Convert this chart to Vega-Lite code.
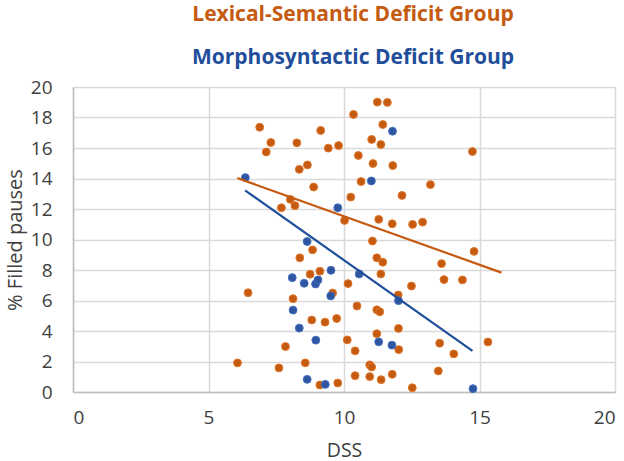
{
  "$schema": "https://vega.github.io/schema/vega-lite/v6.json",
  "autosize": "none",
  "width": 542,
  "height": 305,
  "padding": {"left": 73, "top": 87, "right": 9, "bottom": 69},
  "background": "white",
  "title": {
    "text": "Lexical-Semantic Deficit Group",
    "subtitle": "Morphosyntactic Deficit Group",
    "color": "#C55A11",
    "subtitleColor": "#1F4E9A",
    "font": "Open Sans",
    "subtitleFont": "Open Sans",
    "fontSize": 21,
    "subtitleFontSize": 21,
    "fontWeight": "bold",
    "subtitleFontWeight": "bold",
    "anchor": "middle",
    "dx": 9,
    "offset": 10,
    "subtitlePadding": 22
  },
  "config": {
    "view": {"stroke": null},
    "axis": {
      "labelFont": "Open Sans",
      "titleFont": "Open Sans",
      "labelColor": "#404040",
      "titleColor": "#404040",
      "labelFontSize": 19,
      "titleFontSize": 19.5,
      "titleFontWeight": "normal",
      "gridColor": "#d9d9d9",
      "gridWidth": 1.5,
      "domainColor": "#bfbfbf",
      "domainWidth": 1.5,
      "ticks": false,
      "labelOverlap": false
    }
  },
  "datasets": {
    "points": [
      {"group": "Lexical-Semantic", "dss": 6.89, "filled": 17.36},
      {"group": "Lexical-Semantic", "dss": 7.30, "filled": 16.36},
      {"group": "Lexical-Semantic", "dss": 7.13, "filled": 15.74},
      {"group": "Lexical-Semantic", "dss": 8.26, "filled": 16.34},
      {"group": "Lexical-Semantic", "dss": 9.14, "filled": 17.15},
      {"group": "Lexical-Semantic", "dss": 9.42, "filled": 15.99},
      {"group": "Lexical-Semantic", "dss": 9.80, "filled": 16.16},
      {"group": "Lexical-Semantic", "dss": 8.65, "filled": 14.89},
      {"group": "Lexical-Semantic", "dss": 8.35, "filled": 14.6},
      {"group": "Lexical-Semantic", "dss": 8.88, "filled": 13.44},
      {"group": "Lexical-Semantic", "dss": 8.02, "filled": 12.63},
      {"group": "Lexical-Semantic", "dss": 8.19, "filled": 12.22},
      {"group": "Lexical-Semantic", "dss": 7.69, "filled": 12.08},
      {"group": "Lexical-Semantic", "dss": 10.02, "filled": 11.25},
      {"group": "Lexical-Semantic", "dss": 8.84, "filled": 9.32},
      {"group": "Lexical-Semantic", "dss": 8.37, "filled": 8.8},
      {"group": "Lexical-Semantic", "dss": 8.75, "filled": 7.72},
      {"group": "Lexical-Semantic", "dss": 9.11, "filled": 7.92},
      {"group": "Lexical-Semantic", "dss": 9.58, "filled": 6.49},
      {"group": "Lexical-Semantic", "dss": 6.46, "filled": 6.51},
      {"group": "Lexical-Semantic", "dss": 8.12, "filled": 6.12},
      {"group": "Lexical-Semantic", "dss": 8.81, "filled": 4.72},
      {"group": "Lexical-Semantic", "dss": 9.30, "filled": 4.58},
      {"group": "Lexical-Semantic", "dss": 9.73, "filled": 4.82},
      {"group": "Lexical-Semantic", "dss": 7.84, "filled": 2.98},
      {"group": "Lexical-Semantic", "dss": 6.07, "filled": 1.91},
      {"group": "Lexical-Semantic", "dss": 7.60, "filled": 1.58},
      {"group": "Lexical-Semantic", "dss": 8.57, "filled": 1.91},
      {"group": "Lexical-Semantic", "dss": 9.11, "filled": 0.46},
      {"group": "Lexical-Semantic", "dss": 9.77, "filled": 0.59},
      {"group": "Lexical-Semantic", "dss": 11.23, "filled": 19.01},
      {"group": "Lexical-Semantic", "dss": 11.6, "filled": 18.99},
      {"group": "Lexical-Semantic", "dss": 10.35, "filled": 18.2},
      {"group": "Lexical-Semantic", "dss": 11.43, "filled": 17.54},
      {"group": "Lexical-Semantic", "dss": 11.02, "filled": 16.56},
      {"group": "Lexical-Semantic", "dss": 11.36, "filled": 16.23},
      {"group": "Lexical-Semantic", "dss": 14.74, "filled": 15.77},
      {"group": "Lexical-Semantic", "dss": 10.53, "filled": 15.51},
      {"group": "Lexical-Semantic", "dss": 11.07, "filled": 14.98},
      {"group": "Lexical-Semantic", "dss": 11.8, "filled": 14.85},
      {"group": "Lexical-Semantic", "dss": 10.63, "filled": 13.8},
      {"group": "Lexical-Semantic", "dss": 13.19, "filled": 13.6},
      {"group": "Lexical-Semantic", "dss": 10.25, "filled": 12.78},
      {"group": "Lexical-Semantic", "dss": 12.14, "filled": 12.89},
      {"group": "Lexical-Semantic", "dss": 11.28, "filled": 11.32},
      {"group": "Lexical-Semantic", "dss": 11.78, "filled": 11.03},
      {"group": "Lexical-Semantic", "dss": 12.53, "filled": 10.99},
      {"group": "Lexical-Semantic", "dss": 12.9, "filled": 11.14},
      {"group": "Lexical-Semantic", "dss": 11.05, "filled": 9.9},
      {"group": "Lexical-Semantic", "dss": 14.8, "filled": 9.22},
      {"group": "Lexical-Semantic", "dss": 11.21, "filled": 8.8},
      {"group": "Lexical-Semantic", "dss": 11.43, "filled": 8.51},
      {"group": "Lexical-Semantic", "dss": 13.6, "filled": 8.42},
      {"group": "Lexical-Semantic", "dss": 11.36, "filled": 7.74},
      {"group": "Lexical-Semantic", "dss": 10.15, "filled": 7.11},
      {"group": "Lexical-Semantic", "dss": 13.69, "filled": 7.37},
      {"group": "Lexical-Semantic", "dss": 14.37, "filled": 7.35},
      {"group": "Lexical-Semantic", "dss": 12.49, "filled": 6.95},
      {"group": "Lexical-Semantic", "dss": 12.0, "filled": 6.36},
      {"group": "Lexical-Semantic", "dss": 10.48, "filled": 5.64},
      {"group": "Lexical-Semantic", "dss": 11.21, "filled": 5.39},
      {"group": "Lexical-Semantic", "dss": 11.32, "filled": 5.26},
      {"group": "Lexical-Semantic", "dss": 12.01, "filled": 4.17},
      {"group": "Lexical-Semantic", "dss": 11.21, "filled": 3.82},
      {"group": "Lexical-Semantic", "dss": 10.12, "filled": 3.42},
      {"group": "Lexical-Semantic", "dss": 12.02, "filled": 2.78},
      {"group": "Lexical-Semantic", "dss": 10.41, "filled": 2.7},
      {"group": "Lexical-Semantic", "dss": 13.53, "filled": 3.2},
      {"group": "Lexical-Semantic", "dss": 14.05, "filled": 2.5},
      {"group": "Lexical-Semantic", "dss": 15.31, "filled": 3.28},
      {"group": "Lexical-Semantic", "dss": 10.95, "filled": 1.78},
      {"group": "Lexical-Semantic", "dss": 11.02, "filled": 1.64},
      {"group": "Lexical-Semantic", "dss": 13.48, "filled": 1.38},
      {"group": "Lexical-Semantic", "dss": 10.41, "filled": 1.07},
      {"group": "Lexical-Semantic", "dss": 10.95, "filled": 1.01},
      {"group": "Lexical-Semantic", "dss": 11.78, "filled": 1.16},
      {"group": "Lexical-Semantic", "dss": 11.37, "filled": 0.81},
      {"group": "Lexical-Semantic", "dss": 12.52, "filled": 0.28},
      {"group": "Morphosyntactic", "dss": 6.36, "filled": 14.06},
      {"group": "Morphosyntactic", "dss": 9.77, "filled": 12.08},
      {"group": "Morphosyntactic", "dss": 11.79, "filled": 17.1},
      {"group": "Morphosyntactic", "dss": 11.01, "filled": 13.84},
      {"group": "Morphosyntactic", "dss": 8.64, "filled": 9.87},
      {"group": "Morphosyntactic", "dss": 9.52, "filled": 7.98},
      {"group": "Morphosyntactic", "dss": 8.09, "filled": 7.5},
      {"group": "Morphosyntactic", "dss": 8.53, "filled": 7.13},
      {"group": "Morphosyntactic", "dss": 8.95, "filled": 7.08},
      {"group": "Morphosyntactic", "dss": 9.04, "filled": 7.35},
      {"group": "Morphosyntactic", "dss": 9.51, "filled": 6.3},
      {"group": "Morphosyntactic", "dss": 8.12, "filled": 5.37},
      {"group": "Morphosyntactic", "dss": 8.35, "filled": 4.19},
      {"group": "Morphosyntactic", "dss": 8.96, "filled": 3.4},
      {"group": "Morphosyntactic", "dss": 8.64, "filled": 0.83},
      {"group": "Morphosyntactic", "dss": 9.31, "filled": 0.5},
      {"group": "Morphosyntactic", "dss": 10.56, "filled": 7.74},
      {"group": "Morphosyntactic", "dss": 12.01, "filled": 5.99},
      {"group": "Morphosyntactic", "dss": 11.28, "filled": 3.29},
      {"group": "Morphosyntactic", "dss": 11.77, "filled": 3.07},
      {"group": "Morphosyntactic", "dss": 14.76, "filled": 0.22}
    ],
    "trend": [
      {"group": "Lexical-Semantic", "dss": 6.06, "filled": 14.03},
      {"group": "Lexical-Semantic", "dss": 15.81, "filled": 7.83},
      {"group": "Morphosyntactic", "dss": 6.35, "filled": 13.22},
      {"group": "Morphosyntactic", "dss": 14.74, "filled": 2.7}
    ]
  },
  "encoding": {
    "x": {
      "field": "dss", "type": "quantitative",
      "scale": {"domain": [0, 20], "nice": false},
      "axis": {"values": [0, 5, 10, 15, 20], "tickCount": 20, "title": "DSS", "labelPadding": 16, "titlePadding": 14, "grid": true}
    },
    "y": {
      "field": "filled", "type": "quantitative",
      "scale": {"domain": [0, 20], "nice": false},
      "axis": {"values": [0, 2, 4, 6, 8, 10, 12, 14, 16, 18, 20], "tickCount": 20, "title": "% Filled pauses", "titleFontSize": 20, "labelPadding": 21, "titlePadding": 5, "grid": true}
    }
  },
  "layer": [
    {
      "data": {"name": "points"},
      "mark": {"type": "point", "filled": true, "shape": "circle", "size": 62, "strokeWidth": 1, "opacity": 1},
      "encoding": {
        "fill": {
          "field": "group", "type": "nominal",
          "scale": {"domain": ["Lexical-Semantic", "Morphosyntactic"], "range": ["#C55A11", "#2F55A0"]},
          "legend": null
        },
        "stroke": {
          "field": "group", "type": "nominal",
          "scale": {"domain": ["Lexical-Semantic", "Morphosyntactic"], "range": ["#E0782E", "#4670C0"]},
          "legend": null
        },
        "order": {"field": "group", "sort": "ascending"}
      }
    },
    {
      "data": {"name": "trend"},
      "mark": {"type": "line", "strokeWidth": 2.2},
      "encoding": {
        "detail": {"field": "group"},
        "color": {
          "field": "group", "type": "nominal",
          "scale": {"domain": ["Lexical-Semantic", "Morphosyntactic"], "range": ["#C55A11", "#1F4E9A"]},
          "legend": null
        }
      }
    }
  ]
}
